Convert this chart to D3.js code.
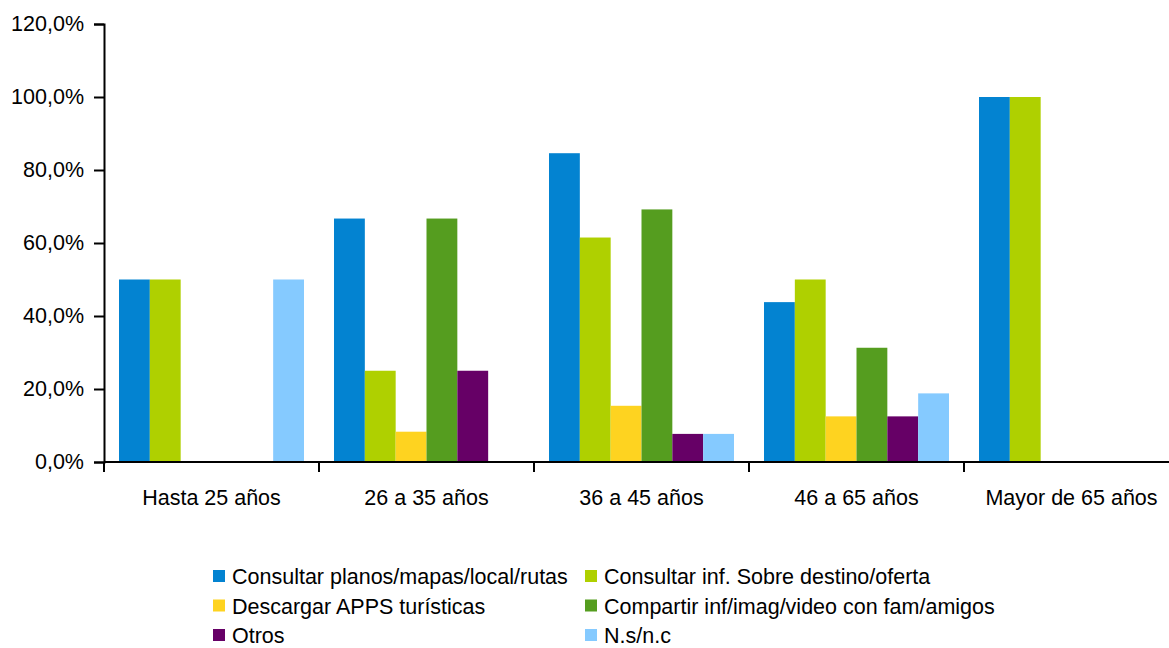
<!DOCTYPE html>
<html>
<head>
<meta charset="utf-8">
<script src="https://cdn.jsdelivr.net/npm/d3@7"></script>
<style>
  html, body { margin: 0; padding: 0; background: #fff; }
  svg { display: block; font-family: "Liberation Sans", Arial, sans-serif; }
</style>
</head>
<body>
<svg id="chart" width="1169" height="648"></svg>
<script>
// Age groups along the x axis
const categories = ["Hasta 25 años", "26 a 35 años", "36 a 45 años", "46 a 65 años", "Mayor de 65 años"];

// One array per activity, percentage per age group
const seriesNames = [
  "Consultar planos/mapas/local/rutas",
  "Consultar inf. Sobre destino/oferta",
  "Descargar APPS turísticas",
  "Compartir inf/imag/video con fam/amigos",
  "Otros",
  "N.s/n.c"
];
const consultarPlanos   = [50.0, 66.7, 84.6, 43.8, 100.0];
const consultarInf      = [50.0, 25.0, 61.5, 50.0, 100.0];
const descargarApps     = [0.0, 8.3, 15.4, 12.5, 0.0];
const compartirInf      = [0.0, 66.7, 69.2, 31.3, 0.0];
const otros             = [0.0, 25.0, 7.7, 12.5, 0.0];
const nsnc              = [50.0, 0.0, 7.7, 18.8, 0.0];
const seriesValues = [consultarPlanos, consultarInf, descargarApps, compartirInf, otros, nsnc];
const seriesColors = ["#0383D1", "#AFD000", "#FED320", "#559D1F", "#660066", "#85CAFF"];

const yTicks = [0, 20, 40, 60, 80, 100, 120];

const svg = d3.select("#chart");
const plotLeft = 104, plotRight = 1179, plotTop = 24, plotBottom = 462;
const fontSize = 21.5;

const x0 = d3.scaleBand().domain(categories).range([plotLeft, plotRight]).padding(0);
const bandW = x0.bandwidth();
const x1 = d3.scaleBand().domain(d3.range(seriesNames.length))
  .range([15, bandW - 15]).padding(0);
const y = d3.scaleLinear().domain([0, 120]).range([plotBottom, plotTop]);

const fmt = v => d3.format(".1f")(v).replace(".", ",") + "%";

// Bars
const groups = svg.append("g").selectAll("g")
  .data(categories)
  .join("g")
  .attr("transform", d => `translate(${x0(d)},0)`);

groups.selectAll("rect")
  .data((d, i) => seriesValues.map((vals, s) => ({ s, v: vals[i] })))
  .join("rect")
  .attr("x", d => x1(d.s))
  .attr("width", x1.bandwidth())
  .attr("y", d => y(d.v))
  .attr("height", d => plotBottom - y(d.v))
  .attr("fill", d => seriesColors[d.s]);

// Y axis
const yAxis = svg.append("g")
  .attr("transform", `translate(${plotLeft},0)`)
  .call(d3.axisLeft(y).tickValues(yTicks).tickFormat(fmt).tickSize(10).tickPadding(10));
yAxis.attr("font-size", fontSize).attr("font-family", "Liberation Sans, Arial, sans-serif");
yAxis.select(".domain").attr("stroke", "#000").attr("stroke-width", 2);
yAxis.selectAll(".tick line").attr("stroke", "#000").attr("stroke-width", 2);
yAxis.selectAll("text").attr("fill", "#000");

// X axis: ticks on band boundaries
const xAxis = svg.append("g");
xAxis.append("line")
  .attr("x1", plotLeft).attr("x2", plotRight)
  .attr("y1", plotBottom).attr("y2", plotBottom)
  .attr("stroke", "#000").attr("stroke-width", 2);
xAxis.selectAll("line.tk")
  .data(categories)
  .join("line")
  .attr("class", "tk")
  .attr("x1", d => x0(d)).attr("x2", d => x0(d))
  .attr("y1", plotBottom).attr("y2", plotBottom + 10)
  .attr("stroke", "#000").attr("stroke-width", 2);
xAxis.selectAll("text")
  .data(categories)
  .join("text")
  .attr("x", d => x0(d) + bandW / 2)
  .attr("y", 505)
  .attr("text-anchor", "middle")
  .attr("font-size", fontSize)
  .attr("fill", "#000")
  .text(d => d);

// Legend: two columns, three rows
const legend = svg.append("g");
const legItems = legend.selectAll("g")
  .data(seriesNames)
  .join("g")
  .attr("transform", (d, i) => `translate(${i % 2 === 0 ? 213 : 585},${576 + Math.floor(i / 2) * 29.5})`);
legItems.append("rect")
  .attr("x", 0).attr("y", -6)
  .attr("width", 12).attr("height", 12)
  .attr("fill", (d, i) => seriesColors[i]);
legItems.append("text")
  .attr("x", 19).attr("y", 8)
  .attr("font-size", fontSize)
  .attr("fill", "#000")
  .text(d => d);
</script>
</body>
</html>
